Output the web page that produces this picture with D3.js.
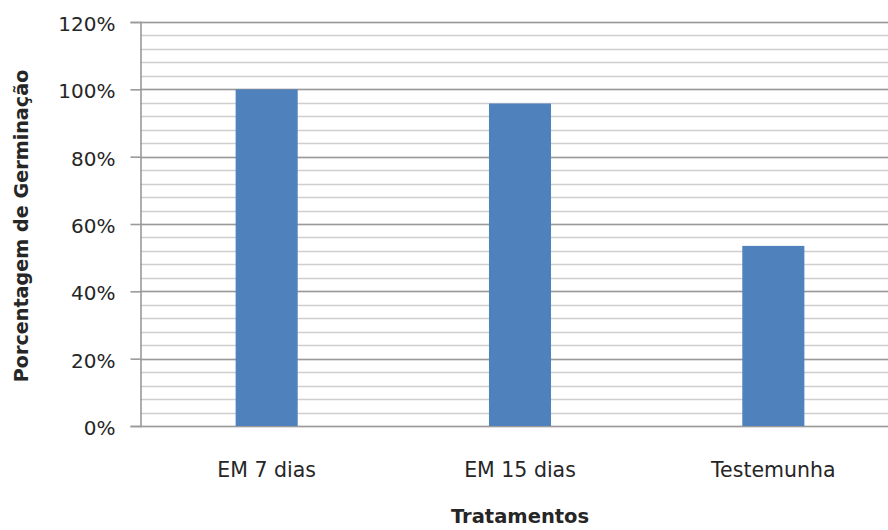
<!DOCTYPE html>
<html>
<head>
<meta charset="utf-8">
<script src="https://cdn.jsdelivr.net/npm/d3@7"></script>
<style>
  body { margin: 0; background: #fff; }
  svg { display: block; }
  text { font-family: "DejaVu Sans", sans-serif; fill: #262626; }
</style>
</head>
<body>
<svg id="chart"></svg>
<script>
// data
const categories = ['EM 7 dias', 'EM 15 dias', 'Testemunha'];
const values = [1.0, 0.958, 0.535];
const majorTicks = [0, 0.2, 0.4, 0.6, 0.8, 1.0, 1.2];
const minorTicks = d3.range(0, 1.2001, 0.04);

const width = 888, height = 530;
const svg = d3.select('#chart').attr('width', width).attr('height', height);

const x = d3.scaleBand().domain(categories).range([140, 900]).paddingInner(0.755).paddingOuter(0.3775);
const y = d3.scaleLinear().domain([0, 1.2]).range([426, 22]);

// minor gridlines
svg.append('g')
  .selectAll('line')
  .data(minorTicks)
  .join('line')
  .attr('x1', 140)
  .attr('x2', 900)
  .attr('y1', d => Math.round(y(d)) + 0.5)
  .attr('y2', d => Math.round(y(d)) + 0.5)
  .attr('stroke', '#cfcfcf')
  .attr('stroke-width', 1.6);

// major gridlines
svg.append('g')
  .selectAll('line')
  .data(majorTicks)
  .join('line')
  .attr('x1', 140)
  .attr('x2', 900)
  .attr('y1', d => Math.round(y(d)) + 0.5)
  .attr('y2', d => Math.round(y(d)) + 0.5)
  .attr('stroke', '#9a9a9a')
  .attr('stroke-width', 1.6);

// bars
svg.append('g')
  .selectAll('rect')
  .data(values)
  .join('rect')
  .attr('x', (d, i) => x(categories[i]))
  .attr('width', x.bandwidth())
  .attr('y', d => y(d))
  .attr('height', d => y(0) - y(d))
  .attr('fill', '#4f81bd');

// y axis
const yAxis = d3.axisLeft(y).tickValues(majorTicks).tickFormat(d3.format('.0%')).tickSize(10).tickPadding(15);
const gy = svg.append('g').attr('transform', 'translate(140.5,0)').call(yAxis);
gy.select('.domain').attr('stroke', '#9a9a9a').attr('stroke-width', 1.6);
gy.selectAll('.tick line').attr('stroke', '#9a9a9a').attr('stroke-width', 1.6);
gy.selectAll('.tick text')
  .attr('font-size', 20)
  .attr('font-family', '"DejaVu Sans", sans-serif')
  .attr('fill', '#262626')
  .attr('dy', '0.42em');

// x axis labels
const xAxis = d3.axisBottom(x).tickSize(0).tickPadding(36);
const gx = svg.append('g').attr('transform', 'translate(0,426)').call(xAxis);
gx.select('.domain').remove();
gx.selectAll('.tick text')
  .attr('font-size', 20.5)
  .attr('font-family', '"DejaVu Sans", sans-serif')
  .attr('fill', '#262626');

// axis titles
svg.append('text')
  .attr('text-anchor', 'middle')
  .attr('transform', 'translate(520, 523)')
  .attr('font-size', 19.5)
  .attr('font-weight', 'bold')
  .text('Tratamentos');

svg.append('text')
  .attr('text-anchor', 'middle')
  .attr('dominant-baseline', 'central')
  .attr('transform', 'translate(21, 226) rotate(-90)')
  .attr('font-size', 19.2)
  .attr('font-weight', 'bold')
  .text('Porcentagem de Germinação');
</script>
</body>
</html>
